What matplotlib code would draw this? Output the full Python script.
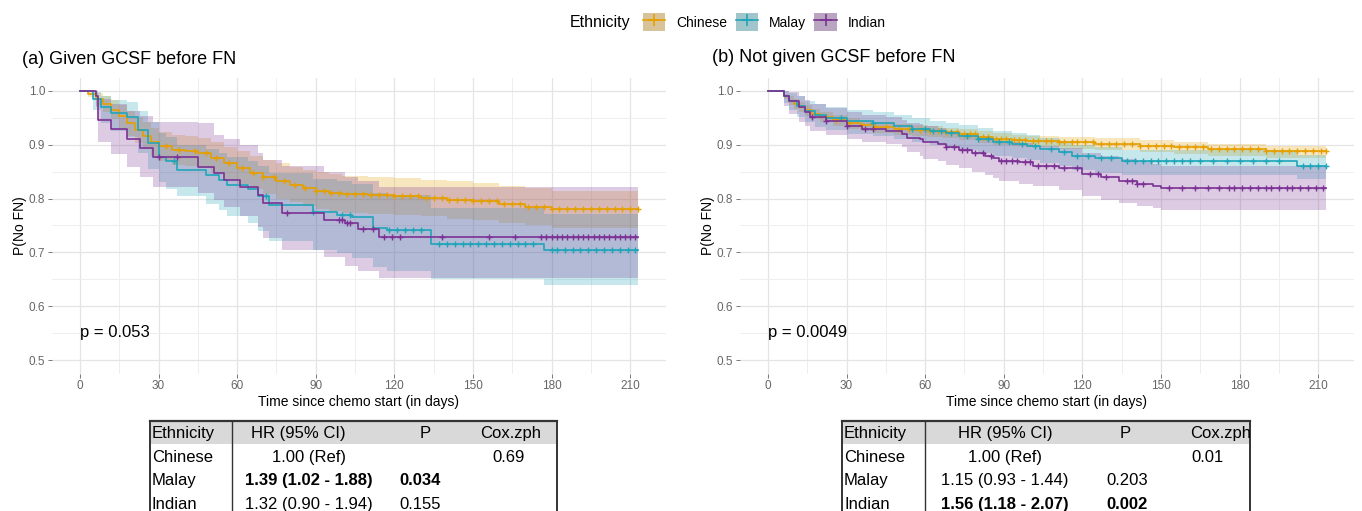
import numpy as np
import matplotlib
matplotlib.use('Agg')
import matplotlib.pyplot as plt
from matplotlib.patches import Patch, Rectangle
from matplotlib.lines import Line2D
from matplotlib.ticker import MultipleLocator

plt.rcParams['font.family'] = ['Liberation Sans', 'DejaVu Sans']
narrow = ['Liberation Sans Narrow', 'Liberation Sans', 'DejaVu Sans']

groups = ['Chinese', 'Malay', 'Indian']
colors = ['#E69F00', '#1FA5B8', '#7B3294']
end_day = 213
x_ticks = [0, 30, 60, 90, 120, 150, 180, 210]
y_ticks = [0.5, 0.6, 0.7, 0.8, 0.9, 1.0]

# (a) given GCSF before FN : KM steps, 95% CI, censor times
a_chn_t = [0, 3, 6, 9, 12, 15, 18, 21, 24, 27, 30, 35, 40, 45, 50, 55, 60, 65, 70, 75, 80, 85, 90, 95, 100, 110, 120, 130, 140, 150, 160, 170, 180]
a_chn_s = [1.0, 0.995, 0.985, 0.975, 0.965, 0.953, 0.94, 0.928, 0.917, 0.906, 0.897, 0.891, 0.888, 0.884, 0.876, 0.866, 0.857, 0.848, 0.84, 0.833, 0.826, 0.82, 0.815, 0.811, 0.808, 0.806, 0.804, 0.801, 0.798, 0.795, 0.79, 0.785, 0.781]
a_chn_hi = [1.0, 1.0, 0.997, 0.99, 0.983, 0.974, 0.963, 0.952, 0.942, 0.932, 0.924, 0.919, 0.916, 0.912, 0.905, 0.896, 0.888, 0.879, 0.872, 0.866, 0.859, 0.853, 0.849, 0.845, 0.842, 0.84, 0.838, 0.835, 0.832, 0.829, 0.824, 0.819, 0.815]
a_chn_lo = [1.0, 0.988, 0.973, 0.96, 0.947, 0.932, 0.917, 0.904, 0.892, 0.88, 0.87, 0.863, 0.86, 0.856, 0.847, 0.836, 0.827, 0.817, 0.808, 0.8, 0.793, 0.787, 0.781, 0.777, 0.774, 0.772, 0.77, 0.767, 0.763, 0.76, 0.755, 0.75, 0.746]
a_chn_cens = [33, 38, 44, 48, 52, 57, 62, 66, 70, 74, 78, 82, 86, 90, 93, 96, 99, 102, 105, 108, 111, 114, 117, 120, 123, 126, 129, 132, 135, 138, 141, 144, 147, 150, 153, 156, 159, 162, 165, 168, 171, 174, 177, 180, 183, 186, 189, 192, 195, 198, 201, 204, 207, 210, 213]

a_mal_t = [0, 5, 8, 12, 18, 22, 26, 30, 33, 37, 48, 53, 56, 64, 68, 72, 89, 98, 104, 112, 117, 134, 177]
a_mal_s = [1.0, 0.985, 0.97, 0.959, 0.952, 0.928, 0.904, 0.878, 0.869, 0.854, 0.844, 0.835, 0.826, 0.817, 0.804, 0.789, 0.776, 0.77, 0.765, 0.746, 0.741, 0.715, 0.705]
a_mal_hi = [1.0, 0.998, 0.99, 0.984, 0.98, 0.962, 0.943, 0.921, 0.914, 0.9, 0.892, 0.885, 0.878, 0.87, 0.86, 0.848, 0.837, 0.832, 0.828, 0.81, 0.806, 0.783, 0.772]
a_mal_lo = [1.0, 0.965, 0.94, 0.925, 0.915, 0.885, 0.855, 0.83, 0.818, 0.805, 0.79, 0.778, 0.768, 0.755, 0.74, 0.722, 0.705, 0.698, 0.69, 0.672, 0.666, 0.65, 0.64]
a_mal_cens = [36, 71, 89, 100, 103, 118, 121, 124, 127, 130, 137, 140, 143, 146, 149, 152, 155, 158, 161, 164, 167, 170, 173, 180, 182, 185, 188, 191, 194, 197, 200, 203, 206, 209, 212]

a_ind_t = [0, 6, 7, 12, 18, 23, 28, 45, 51, 55, 61, 68, 70, 77, 93, 101, 106, 114]
a_ind_s = [1.0, 0.99, 0.946, 0.93, 0.91, 0.894, 0.877, 0.859, 0.848, 0.835, 0.822, 0.807, 0.791, 0.774, 0.761, 0.755, 0.743, 0.728]
a_ind_hi = [1.0, 1.0, 0.985, 0.975, 0.963, 0.953, 0.943, 0.94, 0.918, 0.91, 0.9, 0.885, 0.872, 0.86, 0.85, 0.84, 0.833, 0.822]
a_ind_lo = [1.0, 0.97, 0.905, 0.882, 0.858, 0.84, 0.822, 0.81, 0.798, 0.785, 0.768, 0.748, 0.727, 0.705, 0.692, 0.675, 0.665, 0.652]
a_ind_cens = [30, 37, 79, 99, 100, 102, 103, 108, 112, 116, 119, 122, 138, 156, 166, 176, 178, 180, 182, 184, 186, 188, 190, 192, 194, 196, 198, 200, 202, 204, 206, 208, 210, 212]

# (b) not given GCSF before FN
b_chn_t = [0, 6, 8, 10, 12, 14, 17, 20, 25, 30, 35, 40, 48, 55, 61, 67, 73, 80, 86, 93, 99, 111, 125, 142, 155, 168, 190]
b_chn_s = [1.0, 0.99, 0.982, 0.976, 0.97, 0.964, 0.958, 0.952, 0.946, 0.94, 0.936, 0.933, 0.93, 0.928, 0.926, 0.923, 0.92, 0.915, 0.911, 0.909, 0.907, 0.905, 0.902, 0.898, 0.895, 0.892, 0.888]
b_chn_hi = [1.0, 0.995, 0.99, 0.985, 0.979, 0.973, 0.967, 0.961, 0.955, 0.949, 0.945, 0.942, 0.939, 0.937, 0.935, 0.932, 0.929, 0.925, 0.921, 0.919, 0.917, 0.915, 0.912, 0.908, 0.905, 0.902, 0.898]
b_chn_lo = [1.0, 0.985, 0.974, 0.967, 0.96, 0.954, 0.948, 0.942, 0.935, 0.929, 0.925, 0.922, 0.919, 0.917, 0.915, 0.912, 0.909, 0.904, 0.9, 0.898, 0.896, 0.893, 0.89, 0.886, 0.883, 0.879, 0.875]
b_chn_cens = [22, 26, 31, 36, 41, 45, 50, 54, 58, 62, 65, 68, 70, 72, 75, 77, 79, 82, 84, 87, 89, 91, 94, 96, 98, 101, 103, 106, 108, 111, 113, 116, 118, 121, 124, 127, 130, 133, 136, 139, 142, 145, 148, 151, 154, 157, 160, 163, 166, 169, 172, 175, 178, 181, 184, 187, 190, 193, 196, 199, 202, 205, 208, 211, 213]

b_mal_t = [0, 6, 8, 11, 14, 18, 22, 30, 40, 48, 55, 62, 68, 73, 80, 86, 93, 99, 104, 111, 116, 125, 135, 202]
b_mal_s = [1.0, 0.99, 0.982, 0.972, 0.963, 0.955, 0.95, 0.944, 0.94, 0.935, 0.93, 0.925, 0.921, 0.917, 0.911, 0.905, 0.901, 0.898, 0.893, 0.887, 0.88, 0.875, 0.87, 0.861]
b_mal_hi = [1.0, 1.0, 0.997, 0.99, 0.982, 0.975, 0.97, 0.964, 0.96, 0.955, 0.95, 0.945, 0.941, 0.937, 0.931, 0.925, 0.921, 0.918, 0.913, 0.907, 0.9, 0.895, 0.89, 0.881]
b_mal_lo = [1.0, 0.978, 0.965, 0.952, 0.942, 0.933, 0.927, 0.92, 0.916, 0.91, 0.905, 0.9, 0.895, 0.891, 0.885, 0.879, 0.875, 0.872, 0.867, 0.86, 0.853, 0.848, 0.843, 0.836]
b_mal_cens = [28, 40, 55, 60, 63, 66, 70, 76, 80, 84, 88, 92, 97, 102, 108, 113, 118, 122, 127, 131, 137, 140, 143, 146, 149, 152, 155, 158, 161, 165, 170, 175, 180, 185, 190, 195, 204, 207, 210, 213]

b_ind_t = [0, 6, 8, 12, 14, 16, 22, 30, 36, 45, 51, 53, 58, 59, 65, 68, 73, 78, 83, 86, 88, 96, 101, 111, 120, 127, 134, 141, 147, 150]
b_ind_s = [1.0, 0.99, 0.982, 0.97, 0.961, 0.952, 0.944, 0.935, 0.93, 0.926, 0.92, 0.913, 0.911, 0.905, 0.902, 0.896, 0.89, 0.885, 0.88, 0.876, 0.87, 0.868, 0.861, 0.857, 0.846, 0.84, 0.833, 0.828, 0.824, 0.82]
b_ind_hi = [1.0, 1.0, 0.998, 0.99, 0.983, 0.976, 0.969, 0.961, 0.956, 0.952, 0.946, 0.941, 0.939, 0.934, 0.931, 0.926, 0.921, 0.917, 0.913, 0.91, 0.905, 0.903, 0.898, 0.894, 0.885, 0.879, 0.873, 0.868, 0.864, 0.861]
b_ind_lo = [1.0, 0.972, 0.958, 0.943, 0.935, 0.925, 0.918, 0.91, 0.905, 0.902, 0.895, 0.886, 0.88, 0.874, 0.869, 0.863, 0.856, 0.849, 0.843, 0.838, 0.832, 0.828, 0.824, 0.816, 0.805, 0.798, 0.792, 0.786, 0.782, 0.778]
b_ind_cens = [17, 22, 30, 37, 40, 68, 71, 74, 76, 79, 82, 85, 89, 91, 93, 95, 98, 100, 103, 106, 109, 113, 118, 123, 126, 129, 137, 139, 141, 143, 153, 158, 163, 168, 172, 176, 178, 181, 184, 187, 190, 192, 195, 198, 200, 203, 206, 209, 212]

p_a = 'p = 0.053'
p_b = 'p = 0.0049'

tab_header = ['Ethnicity', 'HR (95% CI)', 'P', 'Cox.zph']
tab_a = [['Chinese', '1.00 (Ref)', '', '0.69'],
         ['Malay', '1.39 (1.02 - 1.88)', '0.034', ''],
         ['Indian', '1.32 (0.90 - 1.94)', '0.155', '']]
tab_a_bold = [False, True, False]
tab_b = [['Chinese', '1.00 (Ref)', '', '0.01'],
         ['Malay', '1.15 (0.93 - 1.44)', '0.203', ''],
         ['Indian', '1.56 (1.18 - 2.07)', '0.002', '']]
tab_b_bold = [False, False, True]

W, H = 1362, 511
fig = plt.figure(figsize=(W / 100., H / 100.), dpi=100)


def km_panel(ax, curves, ptext):
    for (t, s, lo, hi, cens), c in zip(curves, colors):
        ax.fill_between(t + [end_day], lo + [lo[-1]], hi + [hi[-1]], step='post',
                        color=c, alpha=0.25, lw=0)
    for (t, s, lo, hi, cens), c in zip(curves, colors):
        ax.step(t + [end_day], s + [s[-1]], where='post', color=c, lw=1.2)
        idx = np.searchsorted(t, cens, side='right') - 1
        ax.plot(cens, np.array(s)[idx], '+', color=c, ms=5, mew=1.0)

    ax.set_xlim(-10.65, 223.65)
    ax.set_ylim(0.475, 1.025)
    ax.set_xticks(x_ticks)
    ax.set_xticklabels([str(v) for v in x_ticks], fontfamily=narrow)
    ax.set_yticks(y_ticks)
    ax.set_yticklabels(['%.1f' % v for v in y_ticks], fontfamily=narrow)
    ax.xaxis.set_minor_locator(MultipleLocator(15))
    ax.yaxis.set_minor_locator(MultipleLocator(0.05))
    ax.grid(which='major', color='#E4E4E4', lw=0.9)
    ax.grid(which='minor', color='#EEEEEE', lw=0.7)
    ax.set_axisbelow(True)
    for sp in ax.spines.values():
        sp.set_visible(False)
    ax.tick_params(which='major', length=3, width=0.7, color='#777777',
                   labelcolor='#666666', labelsize=8.5, pad=2)
    ax.tick_params(which='minor', length=0)
    ax.set_xlabel('Time since chemo start (in days)', fontsize=10, labelpad=2)
    ax.set_ylabel('P(No FN)', fontsize=10, labelpad=1)
    ax.text(0, 0.551, ptext, fontsize=12, ha='left', va='center')


def draw_table(x0, x1, sep, head_x, val_x, rows, bold):
    top = 421
    ax = fig.add_axes([(x0 - 5) / W, 0, (x1 - x0 + 10) / W, (H - top + 6) / H])
    ax.set_xlim(x0 - 5, x1 + 5)
    ax.set_ylim(H, top - 6)
    ax.axis('off')
    ax.add_patch(Rectangle((x0, top), x1 - x0, 23, facecolor='#D9D9D9', edgecolor='none'))
    ax.plot([x0, x1], [top, top], color='#333333', lw=1.6)
    for xx, lw in [(x0, 1.4), (x1, 1.4), (sep, 1.0)]:
        ax.plot([xx, xx], [top, H], color='#333333', lw=lw, clip_on=False)
    ax.text(x0 + 2, top + 12, tab_header[0], fontsize=12, ha='left', va='center')
    for j in range(1, 4):
        ax.text(head_x[j - 1], top + 12, tab_header[j], fontsize=12, ha='center', va='center')
    for i, row in enumerate(rows):
        y = top + 36 + 23.5 * i
        ax.text(x0 + 2, y, row[0], fontsize=12, ha='left', va='center')
        for j in range(1, 4):
            w = 'bold' if (bold[i] and j < 3) else 'normal'
            ax.text(val_x[j - 1], y, row[j], fontsize=12, ha='center', va='center', fontweight=w)


ax1 = fig.add_axes([52. / W, (H - 373.5) / H, 614. / W, 296. / H])
km_panel(ax1, [(a_chn_t, a_chn_s, a_chn_lo, a_chn_hi, a_chn_cens),
               (a_mal_t, a_mal_s, a_mal_lo, a_mal_hi, a_mal_cens),
               (a_ind_t, a_ind_s, a_ind_lo, a_ind_hi, a_ind_cens)], p_a)
ax2 = fig.add_axes([740. / W, (H - 373.5) / H, 614. / W, 296. / H])
km_panel(ax2, [(b_chn_t, b_chn_s, b_chn_lo, b_chn_hi, b_chn_cens),
               (b_mal_t, b_mal_s, b_mal_lo, b_mal_hi, b_mal_cens),
               (b_ind_t, b_ind_s, b_ind_lo, b_ind_hi, b_ind_cens)], p_b)

fig.text(22. / W, 1 - 60. / H, '(a) Given GCSF before FN', fontsize=13, va='center', ha='left')
fig.text(712. / W, 1 - 58. / H, '(b) Not given GCSF before FN', fontsize=13, va='center', ha='left')

# legend on top
fig.text(570. / W, 1 - 22. / H, 'Ethnicity', fontsize=11.5, va='center', ha='left')
handles = []
for c in colors:
    handles.append((Patch(facecolor='#D2D2D2', edgecolor='none'),
                    Patch(facecolor=c, alpha=0.28, edgecolor='none'),
                    Line2D([], [], color=c, lw=1.2, marker='+', ms=8, mew=1.2)))
fig.legend(handles, groups, loc='center left', bbox_to_anchor=(643. / W, 1 - 22. / H),
           ncol=3, frameon=False, fontsize=10, handlelength=1.6, handleheight=1.6,
           handletextpad=0.8, columnspacing=0.6, borderpad=0, borderaxespad=0)

draw_table(150, 557, 232, [298, 425, 511], [309, 420, 509], tab_a, tab_a_bold)
draw_table(842, 1250, 925, [1005, 1125, 1221], [1005, 1127, 1208], tab_b, tab_b_bold)

plt.savefig('out.png', dpi=100)
